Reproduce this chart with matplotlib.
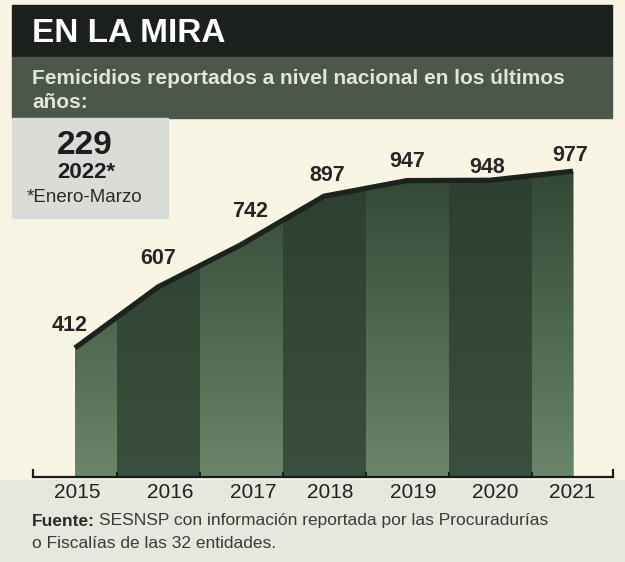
import numpy as np
import matplotlib
matplotlib.use("Agg")
import matplotlib.pyplot as plt
from matplotlib.patches import Rectangle
from matplotlib.colors import LinearSegmentedColormap

# Data read from the newspaper graphic
YEARS = ["2015", "2016", "2017", "2018", "2019", "2020", "2021"]
FEMICIDES = [412, 607, 742, 897, 947, 948, 977]
PARTIAL_VALUE = "229"
PARTIAL_YEAR = "2022*"
PARTIAL_NOTE = "*Enero-Marzo"

TITLE = "EN LA MIRA"
SUBTITLE = "Femicidios reportados a nivel nacional en los últimos\naños:"
SOURCE_BOLD = "Fuente:"
SOURCE_1 = "SESNSP con información reportada por las Procuradurías"
SOURCE_2 = "o Fiscalías de las 32 entidades."

# Layout tweaks (pixel nudges for labels, as in the printed piece)
VALUE_OFFSETS = [(-5, 23), (0, 29), (9, 33), (3, 21), (0, 19), (-3, 13), (-3, 16)]
YEAR_OFFSETS = [2, 12, 12, 6, 6, 5, -1]

FONT = ["Liberation Sans", "DejaVu Sans"]
CREAM = "#f8f5e5"
LIGHT_STRIPE = "#6a8669"
DARK_STRIPE = "#3b4f3e"

W, H = 625, 562
fig = plt.figure(figsize=(W / 100, H / 100), dpi=100)
fig.patch.set_facecolor(CREAM)

# Background axes in pixel coordinates for the header, box and footer
bg = fig.add_axes([0, 0, 1, 1])
bg.set_xlim(0, W)
bg.set_ylim(H, 0)
bg.axis("off")
bg.add_patch(Rectangle((0, 480), W, H - 480, color="#e8e7de", zorder=0))
bg.add_patch(Rectangle((12, 5), 600, 52, color="#1c201d", zorder=1))
bg.add_patch(Rectangle((12, 57), 600, 61, color="#4a574a", zorder=1))
bg.add_patch(Rectangle((12, 118), 156, 100, color="#d9dcd7", zorder=1))

bg.text(32, 33, TITLE, color="white", fontsize=24, fontweight="bold",
        family=FONT, va="center", ha="left", zorder=2)
bg.text(32, 69, SUBTITLE, color="#e2e5da", fontsize=15, fontweight="bold",
        family=FONT, va="top", ha="left", linespacing=1.3, zorder=2)

bg.text(85, 146, PARTIAL_VALUE, color="#1e1e1e", fontsize=24, fontweight="bold",
        family=FONT, va="center", ha="center", zorder=2)
bg.text(86, 172, PARTIAL_YEAR, color="#1e1e1e", fontsize=16, fontweight="bold",
        family=FONT, va="center", ha="center", zorder=2)
bg.text(84, 198, PARTIAL_NOTE, color="#2a2a2a", fontsize=13.5,
        family=FONT, va="center", ha="center", zorder=2)

t = bg.text(32, 521, SOURCE_BOLD, color="#2a2a2a", fontsize=12.5, fontweight="bold",
            family=FONT, va="center", ha="left", zorder=2)
bg.annotate(SOURCE_1, xycoords=t, xy=(1, 0.5), xytext=(4, 0), textcoords="offset pixels",
            va="center", ha="left", color="#3a3a3a", fontsize=12.5, family=FONT, zorder=2)
bg.text(32, 544, SOURCE_2, color="#3a3a3a", fontsize=12.5,
        family=FONT, va="center", ha="left", zorder=2)

# Chart axes: x = year index, y = femicides, baseline at pixel y=477
ax_left, ax_right, ax_top, ax_base = 33, 613, 120, 477
px_per_year, px_per_unit = 83, 0.313
x0_px = 75
ax = fig.add_axes([ax_left / W, (H - ax_base) / H,
                   (ax_right - ax_left) / W, (ax_base - ax_top) / H])
ax.patch.set_alpha(0)
ax.set_xlim((ax_left - x0_px) / px_per_year, (ax_right - x0_px) / px_per_year)
ax.set_ylim(0, (ax_base - ax_top) / px_per_unit)
ax.axis("off")

x = np.arange(len(YEARS))
y = np.array(FEMICIDES)

area = ax.fill_between(x, y, 0, color=DARK_STRIPE, lw=0, zorder=1)
clip = area.get_paths()[0]

for i in range(len(x)):
    lo, hi = max(i - 0.5, 0), min(i + 0.5, len(x) - 1)
    col = LIGHT_STRIPE if i % 2 == 0 else DARK_STRIPE
    r = ax.axvspan(lo, hi, 0, 1, color=col, lw=0, zorder=2)
    r.set_clip_path(clip, ax.transData)

# darker towards the top, as in the print
shade = LinearSegmentedColormap.from_list(
    "shade", [(0.16, 0.24, 0.18, 0.0), (0.16, 0.24, 0.18, 0.85)])
grad = np.linspace(0, 1, 256).reshape(-1, 1)
im = ax.imshow(grad, cmap=shade, aspect="auto", origin="lower",
               extent=(0, len(x) - 1, 0, y.max()), zorder=3, interpolation="bilinear")
im.set_clip_path(clip, ax.transData)

ax.plot(x, y, color="#1b231d", lw=3.8, solid_capstyle="butt",
        solid_joinstyle="round", zorder=4)

for i, v in enumerate(FEMICIDES):
    dx, dy = VALUE_OFFSETS[i]
    ax.annotate(str(v), (x[i], v), xytext=(dx, dy), textcoords="offset pixels",
                ha="center", va="center", fontsize=15.5, fontweight="bold",
                color="#262626", family=FONT, zorder=5)

# axis line with upturned ends and small ticks between years
xmin, xmax = ax.get_xlim()
tick_h = 8 / px_per_unit
ax.plot([xmin, xmax], [0, 0], color="#1a1a1a", lw=1.6, clip_on=False, zorder=5)
ax.vlines([xmin, xmax], 0, tick_h, color="#1a1a1a", lw=1.6, clip_on=False, zorder=5)
ax.vlines(x[:-1] + 0.5, 0, tick_h * 0.6, color="#1a1a1a", lw=1.4, clip_on=False, zorder=5)

for i, lab in enumerate(YEARS):
    ax.annotate(lab, (x[i], 0), xytext=(YEAR_OFFSETS[i], -15), textcoords="offset pixels",
                ha="center", va="center", fontsize=15, color="#222222",
                family=FONT, annotation_clip=False, zorder=5)

fig.savefig("out.png", dpi=100, facecolor=CREAM)
